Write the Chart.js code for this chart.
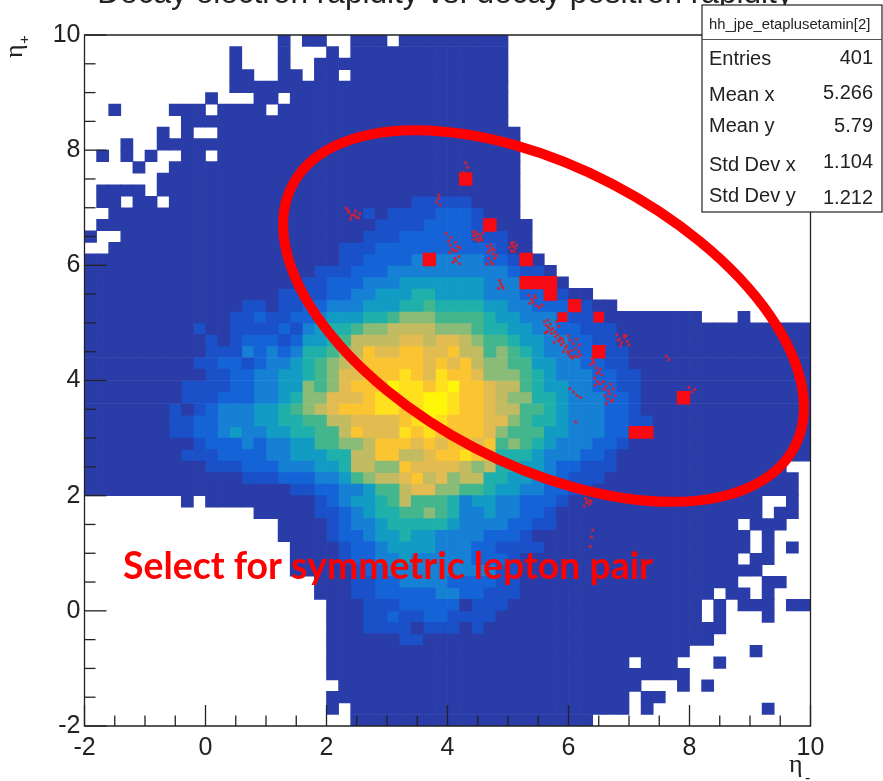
<!DOCTYPE html>
<html>
<head>
<meta charset="utf-8">
<script src="https://cdn.jsdelivr.net/npm/chart.js@4"></script>
<style>html,body{margin:0;padding:0;background:#fff}canvas{display:block;filter:blur(0.55px)}</style>
</head>
<body>
<canvas id="c" width="883" height="781"></canvas>
<script>
// Bin occupancy. '.' = empty, 0..c = colour level. 60 rows top (eta+ = 10) to bottom, 60 columns.
const cellRows = [
".......... ......0.00 ..000.0000 00000",
".......... ..0...0... 0.00000000 00000",
".......... ..0...0..0 0000000000 00000",
".......... ..00..00.0 0.00000000 00000",
".......... ..00000000 0000000000 00000",
".......... 0...00.000 0000000000 00000",
"..0....000 .0000.0000 0000000000 00000",
"........00 0000000000 0000000000 00000",
"......0.0. .000000000 0000000000 000000",
"...0..0000 0000000000 0000000000 000000",
".0.0.0..00 .000000000 0000000000 000000",
"....0..000 0000000000 0000000000 000000",
"......0000 0000000000 0000000000 000000",
".0000.0000 0000000000 0000000000 000000",
".00.00.000 0000000000 0000000111 110000",
"..00000000 0000000000 0001011112 221000",
".000000000 0000000000 0000111122 2211000",
"0..0000000 0000000000 0001112222 2211100",
"..00000000 0000000000 0111222222 2222100",
"0000000000 0000000000 0112222333 33322110",
"0000000000 0000000001 1122233333 333332110",
"0000000000 0000000011 2223334444 4443333220",
"0000000000 0000001111 2233444554 4443332221 00",
"0000000000 0001101122 3334445565 5554433222 2100",
"0000000000 0011211223 4445567776 6665443332 1110000000 0...0",
"0000000001 0011112134 5567788887 7765544332 2111000000 0000000000",
"0000000000 1012221244 5688889989 9876654433 2211000000 0000000000",
"0000000000 1113232355 678a99aa99 a886765433 2211100000 0000000000",
"0000000001 1221233456 789aaaaa9a 9a87766443 3221100000 0000000000",
"0000000000 1122334456 799aaaba9b aa97776543 3322110000 0000000000",
"0000000011 1122334476 79aaacbbab caa9886544 3322110000 0000000000",
"0000000011 1222334577 999abbbbcc baa9877554 3332210000 0000000000",
"0000000101 2333445678 9aaabbabcc baa9886654 3332210000 0000000000",
"0000000112 2333445566 889999abcb aaa9976554 3332211000 0000000000",
"0000000112 2343344556 68a999baba aaa9766644 3332210000 0000000000",
"0000000001 2223233446 6778aaa9a9 aa9a676543 3322100000 0000000000",
"0000000011 1222233444 5588aa889a aba9555433 3221000000 0000000000",
"0000000000 1112223334 458877a999 9878554432 2111000000 00000000..",
"0000000000 0001112223 3467889a89 7885544332 1110000000 000000000.",
"0000000000 0000000112 2334668997 7665443322 1100000000 000000000.",
"........0. 0000000001 2344568666 5344332221 0000000000 000000..0.",
".......... ....000001 1234556676 5334332210 0000000000 000000.00.",
".......... ......0000 1233455555 4333322110 0000000000 0000.000..",
".......... ......0000 1223445443 3332221000 0000000000 00000.0...",
".......... .......000 0122344443 3322111100 0000000000 00000.0.0.",
".......... .......000 0122334333 3322210000 0000000000 0000.00...",
".......... .......000 0012233333 3333110000 0000000000 000000....",
".......... .........0 0011223333 2222110000 0000000000 0000..00..",
".......... .........0 0011222223 3221110000 0000000000 00.00.0...",
".......... .......... 0001112222 2011100000 0000000000 0.0.000.00",
".......... .......... 0001121122 1111000000 0000000000 0.0...0...",
".......... .......... 0001111011 1010000000 0000000000 000.......",
".......... .......... 0000001100 0000000000 0000000000 00........",
".......... .......... 0000000000 0000000000 0000000000 .....0....",
".......... .......... 0000000000 0000000000 00000.000. ..0.......",
".......... .......... 0000000000 0000000000 0000000000 ..........",
".......... .......... .000000000 0000000000 000000...0 .0........",
".......... .......... 0000000000 0000000000 00000.00.. ..........",
".......... .......... 0.00000000 0000000000 00000.0... ......0...",
".......... .......... ..00000000 0000000000 00........ .........."
];
const levelKeys = ["0","1","2","3","4","5","6","7","8","9","a","b","c"];
const levelColors = ["#2a3ca8","#1a50c8","#1464d8","#1680d4","#129cc4","#20b0ac","#44b68e","#8abc78","#c2bb62","#e2bc50","#fbc532","#ffe01c","#fff70a"];

// Single-bin fully filled red boxes: [eta-, eta+]
const redBoxEtaMinus = [4.3,4.7,3.7,5.3,5.3,5.5,5.7,5.7,6.1,6.5,7.9,7.1,7.3,5.9,6.5];
const redBoxEtaPlus  = [7.5,6.7,6.1,6.1,5.7,5.7,5.7,5.5,5.3,4.5,3.7,3.1,3.1,5.1,5.1];
const redBoxSizes    = [9.5,9.5,9.5,9.5,9.5,9.5,9.5,9.5,9.5,9.5,9.5,9,9,7,7.5];

// Fine red dust of the overlaid histogram
const dustEtaMinus = [3.98,4.06,4.02,4.13,4.05,4.17,4.08,4.21,4.11,4.03,4.15,4.12,4.19,4.09,4.14,4.20,4.42,4.46,4.50,4.54,4.58,4.44,4.52,4.47,4.55,4.49,4.43,4.57,4.66,4.72,4.70,4.77,4.74,4.67,4.76,4.68,4.72,4.78,4.65,4.75,4.81,5.05,5.09,5.08,5.02,5.12,5.10,5.06,5.14,4.86,4.88,4.84,4.90,4.92,5.34,5.39,5.36,5.42,5.47,5.44,5.52,5.56,5.45,5.60,5.66,5.63,5.71,5.67,5.62,5.70,5.74,5.78,5.82,5.65,5.72,5.80,5.84,5.78,5.83,5.87,5.92,5.97,6.02,6.08,6.12,6.17,6.20,5.88,5.95,6.05,6.10,6.15,5.85,5.92,6.00,6.06,5.76,5.90,6.00,6.13,6.04,6.18,5.99,6.39,6.42,6.46,6.50,6.55,6.43,6.48,6.52,6.41,6.47,6.44,6.37,6.53,6.58,6.62,6.66,6.70,6.74,6.77,6.60,6.65,6.71,6.63,6.68,6.59,6.73,6.80,6.84,6.88,6.93,6.97,7.00,6.86,6.92,6.82,6.95,6.28,6.30,6.26,6.33,6.35,6.37,6.40,6.38,6.36,2.33,2.37,2.41,2.45,2.49,2.53,2.55,2.40,2.48,2.36,3.82,3.85,3.88,3.86,4.27,4.33,4.30,7.99,8.04,8.09,7.62,7.66,6.02,6.08,6.14,6.20,6.12];
const dustEtaPlus  = [6.55,6.48,6.42,6.40,6.35,6.33,6.28,6.30,6.25,6.22,6.25,6.12,6.15,6.05,6.08,6.03,6.58,6.52,6.46,6.52,6.56,6.45,6.42,6.58,6.47,6.55,6.51,6.44,6.33,6.36,6.26,6.27,6.30,6.22,6.20,6.12,6.06,6.12,6.02,6.02,6.17,6.38,6.40,6.33,6.31,6.30,6.24,6.25,6.35,5.74,5.68,5.60,5.64,5.60,5.48,5.41,5.34,5.36,5.30,5.47,5.27,5.31,5.44,5.02,5.05,4.96,4.88,4.92,4.83,4.98,4.90,4.84,4.79,4.85,4.82,5.02,4.94,4.76,4.70,4.74,4.66,4.60,4.70,4.64,4.56,4.50,4.44,4.62,4.56,4.52,4.42,4.41,4.68,4.50,4.46,4.39,4.66,4.72,4.78,4.72,4.42,4.62,4.50,4.38,4.30,4.22,4.15,4.10,4.04,3.98,3.94,4.34,4.12,3.92,4.28,4.20,3.98,3.90,3.82,3.94,3.86,3.74,3.74,3.68,3.64,3.60,3.77,3.85,3.66,4.79,4.72,4.66,4.75,4.68,4.62,4.60,4.78,4.70,4.78,1.95,1.88,1.82,1.92,1.85,1.90,1.40,1.28,1.12,6.99,6.92,6.86,6.88,6.84,6.82,6.90,6.80,6.94,6.95,7.10,7.16,7.05,7.22,7.62,7.70,7.78,3.88,3.80,3.84,4.42,4.36,3.86,3.80,3.74,3.70,3.28];

// Axes
const majorTicks = [-2,0,2,4,6,8,10];
const minorTicks = [-1.5,-1,-0.5,0.5,1,1.5,2.5,3,3.5,4.5,5,5.5,6.5,7,7.5,8.5,9,9.5];

// Stats box
const statsName = "hh_jpe_etaplusetamin[2]";
const statsLabels = ["Entries","Mean x","Mean y","Std Dev x","Std Dev y"];
const statsValues = ["401","5.266","5.79","1.104","1.212"];

const titleText = "Decay electron rapidity vs. decay positron rapidity";
const noteText = "Select for symmetric lepton pair";

const rows = cellRows.map(r => r.replace(/ /g,"").padEnd(60,"."));
const heatSets = levelKeys.map((k,i) => {
  const data = [];
  rows.forEach((r,ri) => {
    for (let c=0;c<60;c++) if (r[c]===k) {
      const xc = Math.round((-1.9 + 0.2*c)*10)/10;
      const top = Math.round((10-0.2*ri)*10)/10, bot = Math.round((10-0.2*(ri+1))*10)/10;
      data.push({x:xc, y:[bot,top]});
    }
  });
  return {type:"bar", label:"level "+k, data, backgroundColor:levelColors[i], borderWidth:0, order:10,
          barPercentage:1, categoryPercentage:1, grouped:false};
});

const overlay = {
  id:"overlay",
  afterDatasetsDraw(chart){
    const {ctx, scales:{x,y}} = chart;
    const X=v=>x.getPixelForValue(v), Y=v=>y.getPixelForValue(v);
    ctx.save();
    // frame + ticks
    ctx.strokeStyle="#222"; ctx.lineWidth=1.3;
    ctx.beginPath();
    ctx.moveTo(X(-2),Y(10)); ctx.lineTo(X(10),Y(10)); ctx.lineTo(X(10),Y(-2));
    ctx.lineTo(X(-2),Y(-2)); ctx.closePath(); ctx.stroke();
    const tick=(list,lenX,lenY)=>{
      list.forEach(v=>{
        ctx.beginPath(); ctx.moveTo(X(v),Y(-2)); ctx.lineTo(X(v),Y(-2)-lenX); ctx.stroke();
        ctx.beginPath(); ctx.moveTo(X(-2),Y(v)); ctx.lineTo(X(-2)+lenY,Y(v)); ctx.stroke();
      });
    };
    tick(majorTicks,21,22); tick(minorTicks,10.5,11);
    // ellipse
    const cx=5.587, cy=5.12;
    const a=X(cx+4.68)-X(cx), b=X(cx+2.46)-X(cx);
    ctx.strokeStyle="#ff0000"; ctx.lineWidth=10;
    ctx.beginPath(); ctx.ellipse(X(cx),Y(cy),a,b,27.5*Math.PI/180,0,Math.PI*2); ctx.stroke();
    // note
    ctx.fillStyle="#ff0000"; ctx.font="bold 37.4px Lato"; ctx.textAlign="left"; ctx.textBaseline="alphabetic";
    ctx.fillText(noteText,X(-2)+38.5,Y(-2)-147);
    // title (cut by the top edge)
    ctx.fillStyle="#222"; ctx.font="31.6px 'Liberation Sans'"; ctx.textAlign="center";
    ctx.fillText(titleText,445,3);
    // axis names
    ctx.font="26px 'Liberation Serif'"; ctx.textAlign="left";
    ctx.fillText("\u03B7",789,772);
    ctx.font="16px 'Liberation Sans'"; ctx.fillText("-",805,783);
    ctx.save(); ctx.translate(22,58); ctx.rotate(-Math.PI/2);
    ctx.font="26px 'Liberation Serif'"; ctx.fillText("\u03B7",0,0);
    ctx.font="15px 'Liberation Sans'"; ctx.fillText("+",14,7);
    ctx.restore();
    // stats box
    ctx.fillStyle="#fff"; ctx.fillRect(702,5,180,207);
    ctx.strokeStyle="#222"; ctx.lineWidth=1.2; ctx.strokeRect(702,5,180,207);
    ctx.strokeStyle="#555"; ctx.beginPath(); ctx.moveTo(702,39.5); ctx.lineTo(882,39.5); ctx.stroke();
    ctx.fillStyle="#222"; ctx.font="14.8px 'Liberation Sans'"; ctx.textAlign="left";
    ctx.fillText(statsName,709,29);
    const labelBase=[65,101,132,171,202], valueBase=[64,99,132,168,204];
    ctx.font="20px 'Liberation Sans'";
    statsLabels.forEach((t,i)=>{ctx.textAlign="left"; ctx.fillText(t,709,labelBase[i]);
      ctx.textAlign="right"; ctx.fillText(statsValues[i],873,valueBase[i]);});
    ctx.restore();
  }
};

new Chart(document.getElementById("c"),{
  data:{datasets:[
    ...heatSets,
    {type:"scatter",label:"dust",data:dustEtaMinus.map((v,i)=>({x:v,y:dustEtaPlus[i]})),
     pointStyle:"rect",pointRadius:1.9,backgroundColor:"#d02038",borderWidth:0,order:2},
    {type:"scatter",label:"boxes",data:redBoxEtaMinus.map((v,i)=>({x:v,y:redBoxEtaPlus[i]})),
     pointStyle:"rect",pointRadius:redBoxSizes,backgroundColor:"#f60a14",borderWidth:0,order:1}
  ]},
  options:{
    responsive:false, animation:false, events:[],
    layout:{padding:{left:0,right:883-810.5,top:35,bottom:0}},
    plugins:{legend:{display:false},tooltip:{enabled:false},title:{display:false}},
    scales:{
      x:{type:"linear",min:-2,max:10,offset:false,
         afterFit(s){s.height=55},
         afterBuildTicks(s){s.ticks=majorTicks.map(v=>({value:v}))},
         grid:{display:false,drawTicks:false},border:{display:false},
         ticks:{autoSkip:false,maxRotation:0,padding:7,color:"#222",font:{family:"Liberation Sans",size:25}}},
      y:{type:"linear",min:-2,max:10,
         afterFit(s){s.width=84.5},
         afterBuildTicks(s){s.ticks=majorTicks.map(v=>({value:v}))},
         grid:{display:false,drawTicks:false},border:{display:false},
         ticks:{autoSkip:false,padding:4,color:"#222",font:{family:"Liberation Sans",size:25}}}
    }
  },
  plugins:[overlay]
});
</script>
</body>
</html>
